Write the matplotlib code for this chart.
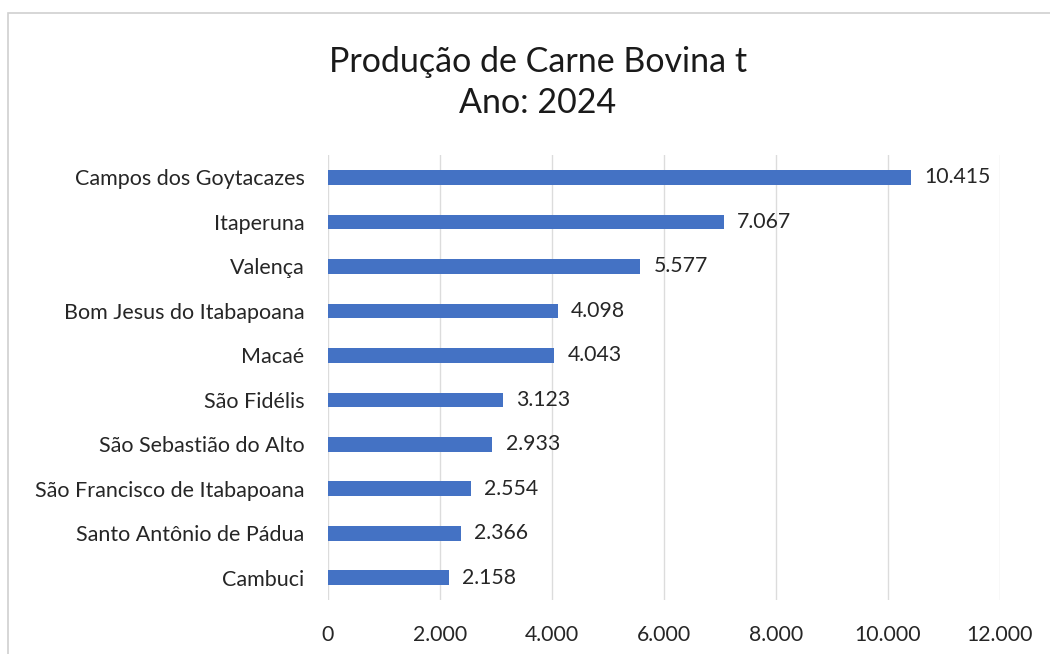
import matplotlib
matplotlib.use("Agg")
import matplotlib.pyplot as plt
from matplotlib.patches import Rectangle
from matplotlib.ticker import FuncFormatter

plt.rcParams['font.family'] = ['Lato', 'DejaVu Sans']

# dados (t)
municipios = [
    "Campos dos Goytacazes", "Itaperuna", "Valença", "Bom Jesus do Itabapoana",
    "Macaé", "São Fidélis", "São Sebastião do Alto", "São Francisco de Itabapoana",
    "Santo Antônio de Pádua", "Cambuci",
]
producao = [10415, 7067, 5577, 4098, 4043, 3123, 2933, 2554, 2366, 2158]
xticks = [0, 2000, 4000, 6000, 8000, 10000, 12000]


def br(v):
    # separador de milhar com ponto
    return f"{int(v):,}".replace(",", ".")


fig = plt.figure(figsize=(10.5, 6.54), dpi=100)
fig.patches.append(Rectangle((8 / 1050, -0.05), 1.1, 1 - 13 / 654 + 0.05,
                             transform=fig.transFigure, fill=False,
                             edgecolor="#d0d0d0", linewidth=1.2))

ax = fig.add_axes([0.3124, 0.0826, 0.640, 0.680])
y = list(range(len(municipios)))
ax.barh(y, producao, height=0.33, color="#4472C4", zorder=3)
ax.set_ylim(len(municipios) - 0.5, -0.5)
ax.set_yticks(y)
ax.set_yticklabels(municipios, fontsize=15.5, color="#262626")
ax.set_xlim(0, 12000)
ax.set_xticks(xticks)
ax.xaxis.set_major_formatter(FuncFormatter(lambda v, p: br(v)))
ax.tick_params(axis="x", labelsize=15.3, labelcolor="#262626", length=0, pad=18)
ax.tick_params(axis="y", length=0, pad=17)
ax.grid(axis="x", color="#dcdcdc", linewidth=1, zorder=0)
for s in ax.spines.values():
    s.set_visible(False)

for yi, v in zip(y, producao):
    ax.text(v + 240, yi, br(v), va="center", ha="left", fontsize=15.3, color="#262626")

fig.text(0.512, 0.905, "Produção de Carne Bovina t", ha="center", va="center",
         fontsize=24.5, color="#1a1a1a")
fig.text(0.512, 0.842, "Ano: 2024", ha="center", va="center",
         fontsize=24.5, color="#1a1a1a")

fig.savefig("out.png", dpi=100)
